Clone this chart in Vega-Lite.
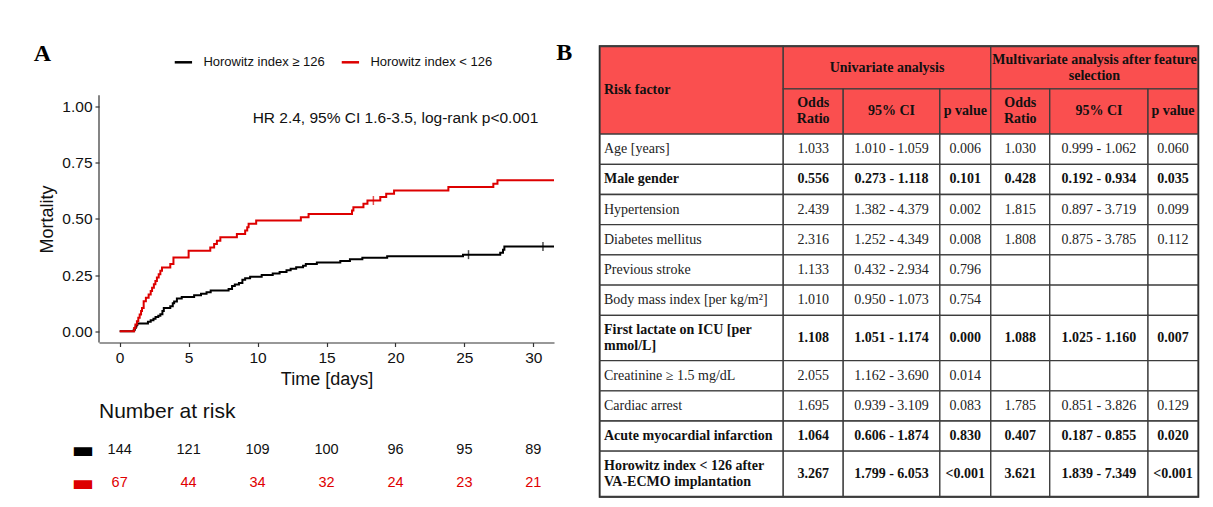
{
  "$schema": "https://vega.github.io/schema/vega-lite/v6.json",
  "padding": {"left": 33, "top": 39.5, "right": 5, "bottom": 0},
  "config": {"view": {"stroke": null}, "font": "Liberation Sans", "axis": {"grid": false}},
  "datasets": {
    "km": [
      {"g": "Horowitz index ≥ 126", "t": 0, "m": 0},
      {"g": "Horowitz index ≥ 126", "t": 1.02, "m": 0.007},
      {"g": "Horowitz index ≥ 126", "t": 1.1, "m": 0.014},
      {"g": "Horowitz index ≥ 126", "t": 1.16, "m": 0.021},
      {"g": "Horowitz index ≥ 126", "t": 1.22, "m": 0.028},
      {"g": "Horowitz index ≥ 126", "t": 1.28, "m": 0.035},
      {"g": "Horowitz index ≥ 126", "t": 2.05, "m": 0.042},
      {"g": "Horowitz index ≥ 126", "t": 2.25, "m": 0.049},
      {"g": "Horowitz index ≥ 126", "t": 2.45, "m": 0.056},
      {"g": "Horowitz index ≥ 126", "t": 2.6, "m": 0.063},
      {"g": "Horowitz index ≥ 126", "t": 2.8, "m": 0.069},
      {"g": "Horowitz index ≥ 126", "t": 2.95, "m": 0.076},
      {"g": "Horowitz index ≥ 126", "t": 3.1, "m": 0.09},
      {"g": "Horowitz index ≥ 126", "t": 3.2, "m": 0.104},
      {"g": "Horowitz index ≥ 126", "t": 3.67, "m": 0.111},
      {"g": "Horowitz index ≥ 126", "t": 3.85, "m": 0.125},
      {"g": "Horowitz index ≥ 126", "t": 3.95, "m": 0.132},
      {"g": "Horowitz index ≥ 126", "t": 4.15, "m": 0.146},
      {"g": "Horowitz index ≥ 126", "t": 4.5, "m": 0.153},
      {"g": "Horowitz index ≥ 126", "t": 5.4, "m": 0.16},
      {"g": "Horowitz index ≥ 126", "t": 5.9, "m": 0.167},
      {"g": "Horowitz index ≥ 126", "t": 6.3, "m": 0.174},
      {"g": "Horowitz index ≥ 126", "t": 6.6, "m": 0.181},
      {"g": "Horowitz index ≥ 126", "t": 7.9, "m": 0.188},
      {"g": "Horowitz index ≥ 126", "t": 8.15, "m": 0.201},
      {"g": "Horowitz index ≥ 126", "t": 8.35, "m": 0.208},
      {"g": "Horowitz index ≥ 126", "t": 8.65, "m": 0.215},
      {"g": "Horowitz index ≥ 126", "t": 8.9, "m": 0.229},
      {"g": "Horowitz index ≥ 126", "t": 9.1, "m": 0.236},
      {"g": "Horowitz index ≥ 126", "t": 9.46, "m": 0.243},
      {"g": "Horowitz index ≥ 126", "t": 10.3, "m": 0.25},
      {"g": "Horowitz index ≥ 126", "t": 11.1, "m": 0.257},
      {"g": "Horowitz index ≥ 126", "t": 11.6, "m": 0.264},
      {"g": "Horowitz index ≥ 126", "t": 12.1, "m": 0.271},
      {"g": "Horowitz index ≥ 126", "t": 12.4, "m": 0.278},
      {"g": "Horowitz index ≥ 126", "t": 12.8, "m": 0.285},
      {"g": "Horowitz index ≥ 126", "t": 13.3, "m": 0.292},
      {"g": "Horowitz index ≥ 126", "t": 13.5, "m": 0.299},
      {"g": "Horowitz index ≥ 126", "t": 14.3, "m": 0.306},
      {"g": "Horowitz index ≥ 126", "t": 16.0, "m": 0.313},
      {"g": "Horowitz index ≥ 126", "t": 16.7, "m": 0.32},
      {"g": "Horowitz index ≥ 126", "t": 17.6, "m": 0.327},
      {"g": "Horowitz index ≥ 126", "t": 19.4, "m": 0.334},
      {"g": "Horowitz index ≥ 126", "t": 24.9, "m": 0.341},
      {"g": "Horowitz index ≥ 126", "t": 27.6, "m": 0.349},
      {"g": "Horowitz index ≥ 126", "t": 27.8, "m": 0.363},
      {"g": "Horowitz index ≥ 126", "t": 27.9, "m": 0.377},
      {"g": "Horowitz index ≥ 126", "t": 31.5, "m": 0.377},
      {"g": "Horowitz index < 126", "t": 0, "m": 0},
      {"g": "Horowitz index < 126", "t": 1.05, "m": 0.015},
      {"g": "Horowitz index < 126", "t": 1.14, "m": 0.03},
      {"g": "Horowitz index < 126", "t": 1.25, "m": 0.045},
      {"g": "Horowitz index < 126", "t": 1.35, "m": 0.06},
      {"g": "Horowitz index < 126", "t": 1.45, "m": 0.075},
      {"g": "Horowitz index < 126", "t": 1.55, "m": 0.09},
      {"g": "Horowitz index < 126", "t": 1.62, "m": 0.104},
      {"g": "Horowitz index < 126", "t": 1.74, "m": 0.134},
      {"g": "Horowitz index < 126", "t": 1.9, "m": 0.149},
      {"g": "Horowitz index < 126", "t": 2.1, "m": 0.164},
      {"g": "Horowitz index < 126", "t": 2.25, "m": 0.179},
      {"g": "Horowitz index < 126", "t": 2.35, "m": 0.194},
      {"g": "Horowitz index < 126", "t": 2.48, "m": 0.209},
      {"g": "Horowitz index < 126", "t": 2.59, "m": 0.224},
      {"g": "Horowitz index < 126", "t": 2.7, "m": 0.239},
      {"g": "Horowitz index < 126", "t": 2.83, "m": 0.254},
      {"g": "Horowitz index < 126", "t": 2.95, "m": 0.269},
      {"g": "Horowitz index < 126", "t": 3.07, "m": 0.284},
      {"g": "Horowitz index < 126", "t": 3.67, "m": 0.299},
      {"g": "Horowitz index < 126", "t": 3.9, "m": 0.328},
      {"g": "Horowitz index < 126", "t": 5.0, "m": 0.358},
      {"g": "Horowitz index < 126", "t": 6.57, "m": 0.373},
      {"g": "Horowitz index < 126", "t": 6.85, "m": 0.388},
      {"g": "Horowitz index < 126", "t": 7.05, "m": 0.403},
      {"g": "Horowitz index < 126", "t": 7.3, "m": 0.418},
      {"g": "Horowitz index < 126", "t": 8.5, "m": 0.433},
      {"g": "Horowitz index < 126", "t": 9.1, "m": 0.448},
      {"g": "Horowitz index < 126", "t": 9.25, "m": 0.463},
      {"g": "Horowitz index < 126", "t": 9.35, "m": 0.478},
      {"g": "Horowitz index < 126", "t": 9.9, "m": 0.493},
      {"g": "Horowitz index < 126", "t": 13.14, "m": 0.507},
      {"g": "Horowitz index < 126", "t": 13.7, "m": 0.522},
      {"g": "Horowitz index < 126", "t": 16.85, "m": 0.537},
      {"g": "Horowitz index < 126", "t": 16.95, "m": 0.552},
      {"g": "Horowitz index < 126", "t": 17.68, "m": 0.567},
      {"g": "Horowitz index < 126", "t": 17.97, "m": 0.582},
      {"g": "Horowitz index < 126", "t": 18.9, "m": 0.597},
      {"g": "Horowitz index < 126", "t": 19.33, "m": 0.612},
      {"g": "Horowitz index < 126", "t": 19.9, "m": 0.627},
      {"g": "Horowitz index < 126", "t": 23.84, "m": 0.642},
      {"g": "Horowitz index < 126", "t": 27.1, "m": 0.657},
      {"g": "Horowitz index < 126", "t": 27.4, "m": 0.672},
      {"g": "Horowitz index < 126", "t": 31.5, "m": 0.672}
    ],
    "censor": [
      {"g": "Horowitz index ≥ 126", "t": 25.3, "m": 0.341},
      {"g": "Horowitz index ≥ 126", "t": 30.7, "m": 0.377},
      {"g": "Horowitz index < 126", "t": 18.4, "m": 0.582}
    ],
    "risk": [
      {"g": "Horowitz index ≥ 126", "t": 0, "n": 144},
      {"g": "Horowitz index ≥ 126", "t": 5, "n": 121},
      {"g": "Horowitz index ≥ 126", "t": 10, "n": 109},
      {"g": "Horowitz index ≥ 126", "t": 15, "n": 100},
      {"g": "Horowitz index ≥ 126", "t": 20, "n": 96},
      {"g": "Horowitz index ≥ 126", "t": 25, "n": 95},
      {"g": "Horowitz index ≥ 126", "t": 30, "n": 89},
      {"g": "Horowitz index < 126", "t": 0, "n": 67},
      {"g": "Horowitz index < 126", "t": 5, "n": 44},
      {"g": "Horowitz index < 126", "t": 10, "n": 34},
      {"g": "Horowitz index < 126", "t": 15, "n": 32},
      {"g": "Horowitz index < 126", "t": 20, "n": 24},
      {"g": "Horowitz index < 126", "t": 25, "n": 23},
      {"g": "Horowitz index < 126", "t": 30, "n": 21}
    ],
    "annot": [{"label": "HR 2.4, 95% CI 1.6-3.5, log-rank p<0.001"}],
    "cells": [
      {"r": "hrf", "rf": "Risk factor", "b": true, "h": true, "ml": false},
      {"r": "h1", "uni": "Univariate analysis", "multi": "Multivariate analysis after feature\nselection", "b": true, "h": true},
      {"r": "h2", "or1": "Odds\nRatio", "ci1": "95% CI", "p1": "p value", "or2": "Odds\nRatio", "ci2": "95% CI", "p2": "p value", "b": true, "h": true},
      {"r": "a1", "rf": "Age [years]", "or1": "1.033", "ci1": "1.010 - 1.059", "p1": "0.006", "or2": "1.030", "ci2": "0.999 - 1.062", "p2": "0.060", "b": false, "h": false},
      {"r": "a2", "rf": "Male gender", "or1": "0.556", "ci1": "0.273 - 1.118", "p1": "0.101", "or2": "0.428", "ci2": "0.192 - 0.934", "p2": "0.035", "b": true, "h": false},
      {"r": "a3", "rf": "Hypertension", "or1": "2.439", "ci1": "1.382 - 4.379", "p1": "0.002", "or2": "1.815", "ci2": "0.897 - 3.719", "p2": "0.099", "b": false, "h": false},
      {"r": "a4", "rf": "Diabetes mellitus", "or1": "2.316", "ci1": "1.252 - 4.349", "p1": "0.008", "or2": "1.808", "ci2": "0.875 - 3.785", "p2": "0.112", "b": false, "h": false},
      {"r": "a5", "rf": "Previous stroke", "or1": "1.133", "ci1": "0.432 - 2.934", "p1": "0.796", "or2": "", "ci2": "", "p2": "", "b": false, "h": false},
      {"r": "a6", "rf": "Body mass index [per kg/m²]", "or1": "1.010", "ci1": "0.950 - 1.073", "p1": "0.754", "or2": "", "ci2": "", "p2": "", "b": false, "h": false},
      {"r": "a7", "rf": "First lactate on ICU [per\nmmol/L]", "or1": "1.108", "ci1": "1.051 - 1.174", "p1": "0.000", "or2": "1.088", "ci2": "1.025 - 1.160", "p2": "0.007", "b": true, "h": false},
      {"r": "a8", "rf": "Creatinine ≥ 1.5 mg/dL", "or1": "2.055", "ci1": "1.162 - 3.690", "p1": "0.014", "or2": "", "ci2": "", "p2": "", "b": false, "h": false},
      {"r": "a9", "rf": "Cardiac arrest", "or1": "1.695", "ci1": "0.939 - 3.109", "p1": "0.083", "or2": "1.785", "ci2": "0.851 - 3.826", "p2": "0.129", "b": false, "h": false},
      {"r": "a10", "rf": "Acute myocardial infarction", "or1": "1.064", "ci1": "0.606 - 1.874", "p1": "0.830", "or2": "0.407", "ci2": "0.187 - 0.855", "p2": "0.020", "b": true, "h": false},
      {"r": "a11", "rf": "Horowitz index < 126 after\nVA-ECMO implantation", "or1": "3.267", "ci1": "1.799 - 6.053", "p1": "<0.001", "or2": "3.621", "ci2": "1.839 - 7.349", "p2": "<0.001", "b": true, "h": false}
    ],
    "tcols": [
      {"c": "rf", "c0": 0, "c1": 30.64, "cm": 15.32},
      {"c": "or1", "c0": 30.64, "c1": 40.67, "cm": 35.65},
      {"c": "ci1", "c0": 40.67, "c1": 56.83, "cm": 48.75},
      {"c": "p1", "c0": 56.83, "c1": 65.35, "cm": 61.09},
      {"c": "or2", "c0": 65.35, "c1": 75.21, "cm": 70.28},
      {"c": "ci2", "c0": 75.21, "c1": 91.64, "cm": 83.43},
      {"c": "p2", "c0": 91.64, "c1": 100, "cm": 95.82},
      {"c": "uni", "c0": 30.64, "c1": 65.35, "cm": 48.0},
      {"c": "multi", "c0": 65.35, "c1": 100, "cm": 82.68}
    ],
    "trows": [
      {"r": "hrf", "r0": 0, "r1": 5.8, "rm": 2.9},
      {"r": "h1", "r0": 0, "r1": 2.8, "rm": 1.4},
      {"r": "h2", "r0": 2.8, "r1": 5.8, "rm": 4.3},
      {"r": "a1", "r0": 5.8, "r1": 7.8, "rm": 6.8},
      {"r": "a2", "r0": 7.8, "r1": 9.8, "rm": 8.8},
      {"r": "a3", "r0": 9.8, "r1": 11.8, "rm": 10.8},
      {"r": "a4", "r0": 11.8, "r1": 13.8, "rm": 12.8},
      {"r": "a5", "r0": 13.8, "r1": 15.8, "rm": 14.8},
      {"r": "a6", "r0": 15.8, "r1": 17.8, "rm": 16.8},
      {"r": "a7", "r0": 17.8, "r1": 20.8, "rm": 19.3},
      {"r": "a8", "r0": 20.8, "r1": 22.8, "rm": 21.8},
      {"r": "a9", "r0": 22.8, "r1": 24.8, "rm": 23.8},
      {"r": "a10", "r0": 24.8, "r1": 26.8, "rm": 25.8},
      {"r": "a11", "r0": 26.8, "r1": 29.8, "rm": 28.3}
    ]
  },
  "align": "none",
  "spacing": -3,
  "hconcat": [
    {
      "spacing": 12,
      "vconcat": [
        {
          "width": 455,
          "height": 296,
          "title": {"text": "A", "anchor": "start", "frame": "bounds", "font": "Liberation Serif", "fontSize": 24, "fontWeight": "bold", "color": "#000000", "dx": -5, "offset": -19},
          "layer": [
            {
              "data": {"name": "km"},
              "mark": {"type": "line", "interpolate": "step-after", "strokeWidth": 2},
              "encoding": {
                "x": {"field": "t", "type": "quantitative", "scale": {"domain": [-1.5, 31.5], "nice": false, "zero": false},
                  "axis": {"values": [0, 5, 10, 15, 20, 25, 30], "title": "Time [days]", "labelFontSize": 15.5, "titleFontSize": 18, "titleFontWeight": "normal", "tickSize": 4, "labelPadding": 4, "titlePadding": 4.5, "domainColor": "#333333", "tickColor": "#333333", "domainWidth": 1.2, "tickWidth": 1.2, "labelColor": "#111111", "titleColor": "#111111", "labelFlush": false}},
                "y": {"field": "m", "type": "quantitative", "scale": {"domain": [-0.05, 1.2673], "nice": false, "zero": false},
                  "axis": {"values": [0, 0.25, 0.5, 0.75, 1], "format": ".2f", "title": "Mortality", "titleY": 172.5, "domain": false, "labelFontSize": 15.5, "titleFontSize": 18, "titleFontWeight": "normal", "tickSize": 4, "labelPadding": 3, "titlePadding": 5, "tickColor": "#333333", "tickWidth": 1.2, "labelColor": "#111111", "titleColor": "#111111", "labelFlush": false}},
                "color": {"field": "g", "type": "nominal",
                  "scale": {"domain": ["Horowitz index ≥ 126", "Horowitz index < 126"], "range": ["#000000", "#dd0000"]},
                  "legend": {"title": null, "orient": "none", "legendX": 74.4, "legendY": 5.8, "direction": "horizontal", "symbolType": "stroke", "symbolSize": 300, "symbolStrokeWidth": 2.5, "labelFontSize": 13, "labelOffset": 10, "columnPadding": 11, "labelColor": "#111111", "labelLimit": 300, "padding": 0}}
              }
            },
            {
              "data": {"name": "annot"},
              "mark": {"type": "rule", "color": "#333333", "strokeWidth": 1.2},
              "encoding": {
                "x": {"datum": -1.5, "type": "quantitative"},
                "y": {"datum": -0.05, "type": "quantitative"},
                "y2": {"datum": 1.05}
              }
            },
            {
              "data": {"name": "censor"},
              "mark": {"type": "tick", "orient": "vertical", "size": 9, "thickness": 1.5},
              "encoding": {
                "x": {"field": "t", "type": "quantitative"},
                "y": {"field": "m", "type": "quantitative"},
                "color": {"condition": {"test": "datum.g === 'Horowitz index < 126'", "value": "#dd0000"}, "value": "#000000"}
              }
            },
            {
              "data": {"name": "annot"},
              "mark": {"type": "text", "fontSize": 15.5, "color": "#111111", "align": "center", "baseline": "middle"},
              "encoding": {
                "x": {"datum": 20, "type": "quantitative"},
                "y": {"datum": 0.95, "type": "quantitative"},
                "text": {"field": "label"}
              }
            }
          ]
        },
        {
          "width": 455,
          "height": 66,
          "data": {"name": "risk"},
          "title": {"text": "Number at risk", "anchor": "start", "frame": "group", "fontSize": 21, "fontWeight": "normal", "font": "Liberation Sans", "color": "#111111", "offset": 12},
          "mark": {"type": "text", "fontSize": 14.5, "baseline": "middle"},
          "encoding": {
            "x": {"field": "t", "type": "quantitative", "scale": {"domain": [-1.5, 31.5], "nice": false, "zero": false}, "axis": null},
            "y": {"field": "g", "type": "nominal", "scale": {"type": "point", "domain": ["Horowitz index ≥ 126", "Horowitz index < 126"], "padding": 0.5},
              "axis": {"title": null, "domain": false, "ticks": false, "tickSize": 0, "labelExpr": "'▬'", "labelFont": "DejaVu Sans", "labelFontSize": 24, "labelPadding": 5,
                "labelColor": {"condition": {"test": "datum.value === 'Horowitz index < 126'", "value": "#dd0000"}, "value": "#000000"}}},
            "text": {"field": "n", "type": "quantitative"},
            "color": {"condition": {"test": "datum.g === 'Horowitz index < 126'", "value": "#e00000"}, "value": "#111111"}
          }
        }
      ]
    },
    {
      "vconcat": [
        {
          "width": 598,
          "height": 450,
          "title": {"text": "B", "anchor": "start", "frame": "bounds", "font": "Liberation Serif", "fontSize": 24, "fontWeight": "bold", "color": "#000000", "dx": -43, "offset": -19},
          "view": {"stroke": "#111111", "strokeWidth": 2.5},
          "data": {"name": "cells"},
          "transform": [
            {"fold": ["rf", "or1", "ci1", "p1", "or2", "ci2", "p2", "uni", "multi"], "as": ["c", "t"]},
            {"filter": "isValid(datum.t)"},
            {"lookup": "c", "from": {"data": {"name": "tcols"}, "key": "c", "fields": ["c0", "c1", "cm"]}},
            {"lookup": "r", "from": {"data": {"name": "trows"}, "key": "r", "fields": ["r0", "r1", "rm"]}}
          ],
          "layer": [
            {
              "mark": {"type": "rect", "stroke": "#3c3c3c", "strokeWidth": 1.3},
              "encoding": {
                "x": {"field": "c0", "type": "quantitative", "scale": {"domain": [0, 100], "nice": false, "zero": false}, "axis": null},
                "x2": {"field": "c1"},
                "y": {"field": "r0", "type": "quantitative", "scale": {"domain": [0, 29.8], "nice": false, "zero": false, "reverse": true}, "axis": null},
                "y2": {"field": "r1"},
                "fill": {"condition": {"test": "datum.h", "value": "#fa4f4f"}, "value": "#ffffff"}
              }
            },
            {
              "transform": [{"filter": "datum.c === 'rf' && datum.b && indexof(datum.t, '\\n') < 0"}],
              "mark": {"type": "text", "align": "left", "baseline": "middle", "dx": 4, "font": "Liberation Serif", "fontSize": 14, "fontWeight": "bold", "color": "#111111"},
              "encoding": {
                "x": {"field": "c0", "type": "quantitative", "scale": {"domain": [0, 100], "nice": false, "zero": false}, "axis": null},
                "y": {"field": "rm", "type": "quantitative", "scale": {"domain": [0, 29.8], "nice": false, "zero": false, "reverse": true}, "axis": null},
                "text": {"field": "t"}
              }
            },
            {
              "transform": [{"filter": "datum.c === 'rf' && indexof(datum.t, '\\n') >= 0"}],
              "mark": {"type": "text", "align": "left", "baseline": "middle", "dx": 4, "dy": -8, "font": "Liberation Serif", "fontSize": 14, "fontWeight": "bold", "lineBreak": "\n", "lineHeight": 16, "color": "#111111"},
              "encoding": {
                "x": {"field": "c0", "type": "quantitative", "scale": {"domain": [0, 100], "nice": false, "zero": false}, "axis": null},
                "y": {"field": "rm", "type": "quantitative", "scale": {"domain": [0, 29.8], "nice": false, "zero": false, "reverse": true}, "axis": null},
                "text": {"field": "t"}
              }
            },
            {
              "transform": [{"filter": "datum.c === 'rf' && !datum.b"}],
              "mark": {"type": "text", "align": "left", "baseline": "middle", "dx": 4, "font": "Liberation Serif", "fontSize": 14, "fontWeight": "normal", "color": "#222222"},
              "encoding": {
                "x": {"field": "c0", "type": "quantitative", "scale": {"domain": [0, 100], "nice": false, "zero": false}, "axis": null},
                "y": {"field": "rm", "type": "quantitative", "scale": {"domain": [0, 29.8], "nice": false, "zero": false, "reverse": true}, "axis": null},
                "text": {"field": "t"}
              }
            },
            {
              "transform": [{"filter": "datum.c !== 'rf' && datum.b && indexof(datum.t, '\\n') < 0"}],
              "mark": {"type": "text", "align": "center", "baseline": "middle", "font": "Liberation Serif", "fontSize": 14, "fontWeight": "bold", "color": "#111111"},
              "encoding": {
                "x": {"field": "cm", "type": "quantitative", "scale": {"domain": [0, 100], "nice": false, "zero": false}, "axis": null},
                "y": {"field": "rm", "type": "quantitative", "scale": {"domain": [0, 29.8], "nice": false, "zero": false, "reverse": true}, "axis": null},
                "text": {"field": "t"}
              }
            },
            {
              "transform": [{"filter": "datum.c !== 'rf' && indexof(datum.t, '\\n') >= 0"}],
              "mark": {"type": "text", "align": "center", "baseline": "middle", "dy": -8, "font": "Liberation Serif", "fontSize": 14, "fontWeight": "bold", "lineBreak": "\n", "lineHeight": 16, "color": "#111111"},
              "encoding": {
                "x": {"field": "cm", "type": "quantitative", "scale": {"domain": [0, 100], "nice": false, "zero": false}, "axis": null},
                "y": {"field": "rm", "type": "quantitative", "scale": {"domain": [0, 29.8], "nice": false, "zero": false, "reverse": true}, "axis": null},
                "text": {"field": "t"}
              }
            },
            {
              "transform": [{"filter": "datum.c !== 'rf' && !datum.b"}],
              "mark": {"type": "text", "align": "center", "baseline": "middle", "font": "Liberation Serif", "fontSize": 14, "fontWeight": "normal", "color": "#222222"},
              "encoding": {
                "x": {"field": "cm", "type": "quantitative", "scale": {"domain": [0, 100], "nice": false, "zero": false}, "axis": null},
                "y": {"field": "rm", "type": "quantitative", "scale": {"domain": [0, 29.8], "nice": false, "zero": false, "reverse": true}, "axis": null},
                "text": {"field": "t"}
              }
            }
          ]
        }
      ]
    }
  ]
}
